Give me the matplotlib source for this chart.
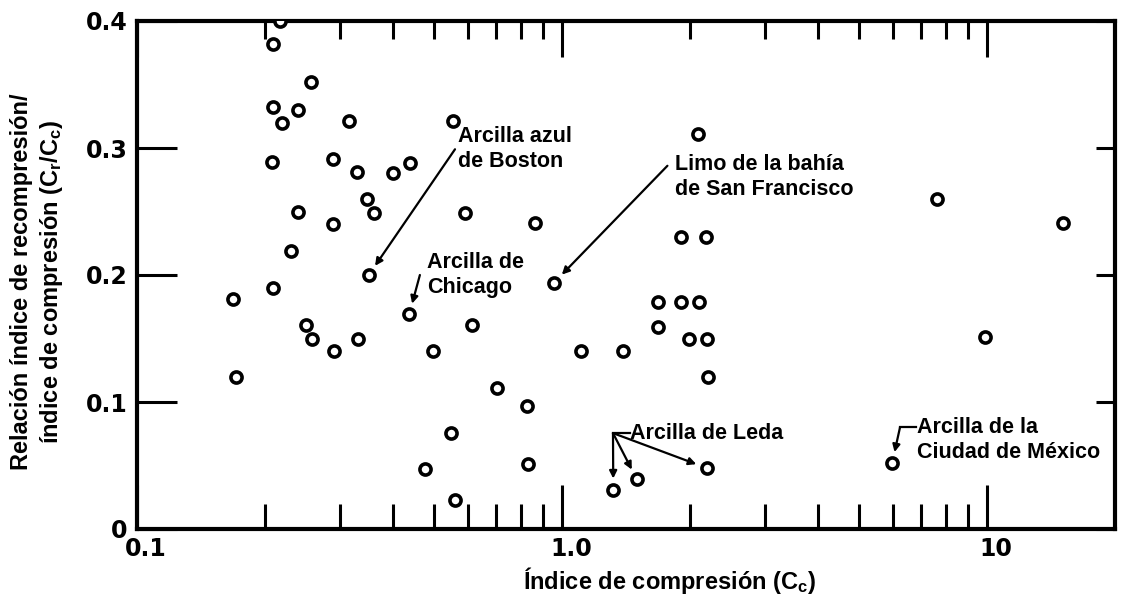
import matplotlib
matplotlib.use('Agg')
import matplotlib.pyplot as plt
import matplotlib.transforms as mtransforms

plt.rcParams['mathtext.default'] = 'regular'

# ---------------- data ----------------
cc = [0.217, 0.209, 0.256, 0.209, 0.239, 0.219, 0.315, 0.555, 0.208, 0.289,
      0.329, 0.400, 0.439, 0.348, 0.361, 0.239, 0.289, 0.591, 0.230, 0.351,
      0.209, 0.168, 0.437, 0.614, 0.250, 0.258, 0.331, 0.291, 0.497, 0.171,
      0.703, 0.548, 0.476, 0.560, 0.827, 0.832, 0.864, 0.958,
      2.09, 1.90, 2.18, 1.68, 1.90, 2.10, 1.68, 1.99, 2.19, 2.20, 1.11, 1.39,
      1.32, 1.50, 2.19, 5.98, 7.63, 15.1, 9.9]
ratio = [0.400, 0.382, 0.352, 0.332, 0.330, 0.320, 0.321, 0.321, 0.289, 0.291,
         0.281, 0.280, 0.288, 0.260, 0.249, 0.250, 0.240, 0.249, 0.219, 0.200,
         0.190, 0.181, 0.169, 0.161, 0.161, 0.150, 0.150, 0.140, 0.140, 0.120,
         0.111, 0.0756, 0.0475, 0.023, 0.097, 0.051, 0.241, 0.194,
         0.311, 0.230, 0.230, 0.179, 0.179, 0.179, 0.159, 0.150, 0.150, 0.120, 0.140, 0.140,
         0.031, 0.039, 0.048, 0.052, 0.260, 0.241, 0.151]

x_major = [0.1, 1.0, 10]
x_major_labels = ['0.1', '1.0', '10']
x_minor = [0.2, 0.3, 0.4, 0.5, 0.6, 0.7, 0.8, 0.9, 2, 3, 4, 5, 6, 7, 8, 9]
y_major = [0.0, 0.1, 0.2, 0.3, 0.4]
y_major_labels = ['0', '0.1', '0.2', '0.3', '0.4']
xlim = (0.1, 20)
ylim = (0.0, 0.4)

xlabel = 'Índice de compresión (C$_c$)'
ylabel = 'Relación índice de recompresión/\níndice de compresión (C$_r$/C$_c$)'

# annotations: text, text position, arrow start, target point
boston_txt, boston_pos = 'Arcilla azul\nde Boston', (0.569, 0.317)
boston_from, boston_to = (0.560, 0.299), (0.351, 0.200)
chicago_txt, chicago_pos = 'Arcilla de\nChicago', (0.481, 0.218)
chicago_from, chicago_to = (0.463, 0.200), (0.437, 0.169)
sf_txt, sf_pos = 'Limo de la bahía\nde San Francisco', (1.845, 0.295)
sf_from, sf_to = (1.77, 0.286), (0.958, 0.194)
leda_txt, leda_pos = 'Arcilla de Leda', (1.445, 0.0755)
leda_from = (1.318, 0.0755)
leda_to = [(1.32, 0.031), (1.50, 0.039), (2.19, 0.048)]
mex_txt, mex_pos = 'Arcilla de la\nCiudad de México', (6.84, 0.088)
mex_corner, mex_dash_end = (6.24, 0.080), (6.80, 0.080)
mex_to = (5.98, 0.052)

# ---------------- figure ----------------
fig = plt.figure(figsize=(11.21, 6.03), dpi=100)
pos = [137 / 1121, 1 - 529 / 603, (1115 - 137) / 1121, (529 - 21) / 603]
ax = fig.add_axes(pos)
ax.set_xscale('log')
ax.set_xlim(*xlim)
ax.set_ylim(*ylim)

ax.plot(cc, ratio, linestyle='none', marker='o', markersize=8,
        markerfacecolor='white', markeredgecolor='black', markeredgewidth=2.6,
        zorder=3)

for s in ax.spines.values():
    s.set_linewidth(3)

tick_font = dict(family='DejaVu Sans', weight='bold', size=17)
ax.set_xticks(x_major)
ax.set_xticklabels(x_major_labels, **tick_font)
ax.set_xticks(x_minor, minor=True)
ax.set_xticklabels([], minor=True)
ax.set_yticks(y_major)
ax.set_yticklabels(y_major_labels, **tick_font)
ax.tick_params(axis='x', which='major', direction='in', length=32, width=2.2, pad=6)
ax.tick_params(axis='x', which='minor', direction='in', length=18, width=2.2)
ax.tick_params(axis='y', which='major', direction='in', length=29, width=2.2, pad=7)
ax.tick_params(axis='y', which='minor', left=False)

offset = mtransforms.ScaledTranslation(9 / 100, 0, fig.dpi_scale_trans)
for lab in ax.get_xticklabels():
    lab.set_transform(lab.get_transform() + offset)

# top / right ticks with their own lengths
ax2 = fig.add_axes(pos, frameon=False)
ax2.set_xscale('log')
ax2.set_xlim(*xlim)
ax2.set_ylim(*ylim)
ax2.patch.set_visible(False)
ax2.xaxis.tick_top()
ax2.yaxis.tick_right()
ax2.set_xticks(x_major)
ax2.set_xticks(x_minor, minor=True)
ax2.set_yticks(y_major)
ax2.set_xticklabels([])
ax2.set_xticklabels([], minor=True)
ax2.set_yticklabels([])
ax2.tick_params(axis='x', which='major', direction='in', length=26, width=2.2)
ax2.tick_params(axis='x', which='minor', direction='in', length=13, width=2.2)
ax2.tick_params(axis='y', which='major', direction='in', length=14, width=2.2)
ax2.tick_params(axis='y', which='minor', right=False)

# labels
lab_font = dict(family='Liberation Sans', weight='bold')
fig.text(670 / 1121, 1 - 580 / 603, xlabel, ha='center', va='center', size=17, **lab_font)
fig.text(38 / 1121, 1 - 282 / 603, ylabel, ha='center', va='center', rotation=90,
         multialignment='center', size=17, linespacing=1.25, **lab_font)

# annotations
ann_font = dict(family='Liberation Sans', weight='bold', size=15.5)
arrow = dict(arrowstyle='-|>', color='black', lw=1.6, mutation_scale=11,
             shrinkA=0, shrinkB=8)

def text_block(txt, p):
    ax.text(p[0], p[1], txt, ha='left', va='top', linespacing=1.25, zorder=4, **ann_font)

text_block(boston_txt, boston_pos)
ax.annotate('', xy=boston_to, xytext=boston_from, arrowprops=arrow)
text_block(chicago_txt, chicago_pos)
ax.annotate('', xy=chicago_to, xytext=chicago_from, arrowprops=arrow)
text_block(sf_txt, sf_pos)
ax.annotate('', xy=sf_to, xytext=sf_from, arrowprops=arrow)

ax.text(leda_pos[0], leda_pos[1], leda_txt, ha='left', va='center', zorder=4, **ann_font)
ax.plot([leda_from[0], leda_pos[0]], [leda_from[1], leda_from[1]], color='black', lw=1.6)
for t in leda_to:
    ax.annotate('', xy=t, xytext=leda_from, arrowprops=arrow)

text_block(mex_txt, mex_pos)
ax.plot([mex_corner[0], mex_dash_end[0]], [mex_corner[1], mex_dash_end[1]], color='black', lw=1.6)
ax.annotate('', xy=mex_to, xytext=mex_corner, arrowprops=arrow)

fig.savefig('out.png', dpi=100)
